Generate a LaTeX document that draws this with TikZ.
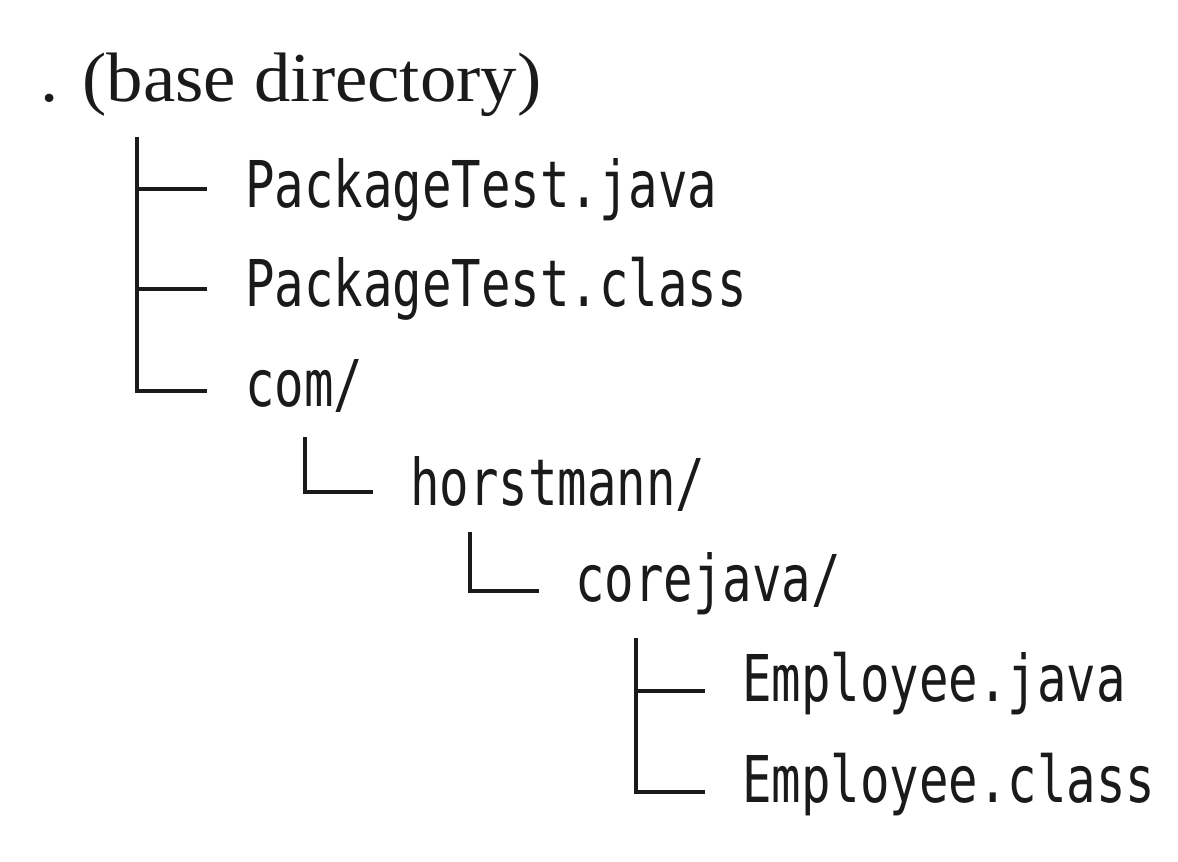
\documentclass[tikz,border=0pt]{standalone}
\usepackage{fontspec}
\newfontfamily\monofam[FakeStretch=0.76]{DejaVu Sans Mono}
\newfontfamily\titlefam[FakeStretch=1.04]{Liberation Serif}
\definecolor{ink}{HTML}{1A1A1A}
\begin{document}
\begin{tikzpicture}[x=1pt,y=-1pt,
  mono/.style={anchor=base west, inner sep=0pt, text=ink, font=\monofam\fontsize{64.5}{70}\selectfont},
  titletext/.style={anchor=base west, inner sep=0pt, text=ink, font=\titlefam\fontsize{70}{76}\selectfont},
  branch/.style={line width=4pt, line join=miter, draw=ink}]
\useasboundingbox[fill=white] (0,0) rectangle (1178,862);
% texts
\node[titletext] (base) at (40,101) {. (base directory)};
\node[mono] (pjava)  at (245,207) {PackageTest.java};
\node[mono] (pclass) at (245,306) {PackageTest.class};
\node[mono] (com)    at (245,406) {com/};
\node[mono] (horst)  at (410,505) {horstmann/};
\node[mono] (core)   at (575,601) {corejava/};
\node[mono] (ejava)  at (742,701) {Employee.java};
\node[mono] (eclass) at (742,802) {Employee.class};
% branch anchors
\coordinate (s1) at (137,137);
\coordinate (e1) at (207,189);
\coordinate (e2) at (207,289);
\coordinate (e3) at (207,391);
\coordinate (s2) at (305,437);
\coordinate (e4) at (373,492);
\coordinate (s3) at (470,532);
\coordinate (e5) at (539,591);
\coordinate (s4) at (636,638);
\coordinate (e6) at (705,691);
\coordinate (e7) at (705,792);
% level 1
\draw[branch] (s1) |- (e3);
\draw[branch] (s1 |- e1) -- (e1);
\draw[branch] (s1 |- e2) -- (e2);
% level 2
\draw[branch] (s2) |- (e4);
% level 3
\draw[branch] (s3) |- (e5);
% level 4
\draw[branch] (s4) |- (e7);
\draw[branch] (s4 |- e6) -- (e6);
\end{tikzpicture}
\end{document}
